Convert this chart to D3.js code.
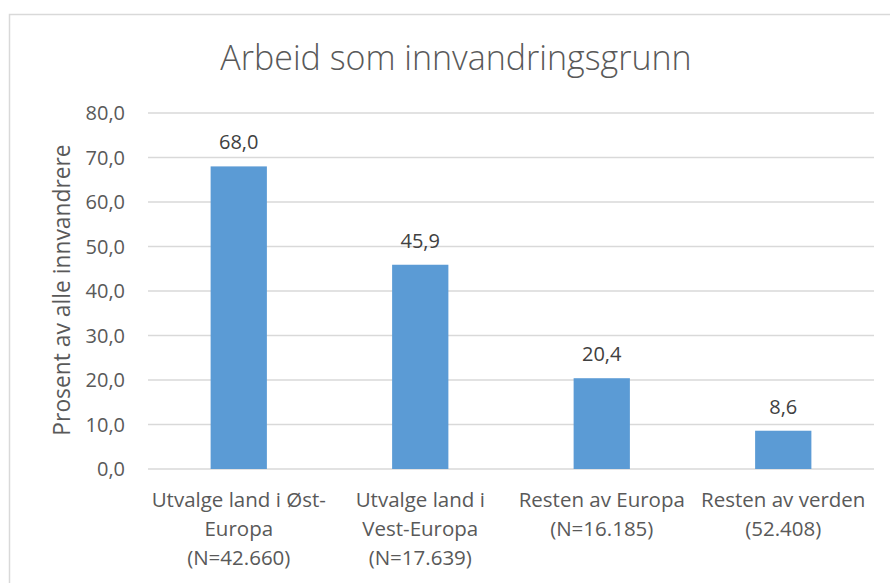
<!DOCTYPE html>
<html>
<head>
<meta charset="utf-8">
<script src="https://cdn.jsdelivr.net/npm/d3@7"></script>
<style>
  body { margin: 0; background: #fff; }
  text { font-family: "Open Sans", "Liberation Sans", sans-serif; fill: #595959; }
</style>
</head>
<body>
<div id="chart"></div>
<script>
// data
var categories = [
  ["Utvalge land i Øst-", "Europa", "(N=42.660)"],
  ["Utvalge land i", "Vest-Europa", "(N=17.639)"],
  ["Resten av Europa", "(N=16.185)"],
  ["Resten av verden", "(52.408)"]
];
var values = [68.0, 45.9, 20.4, 8.6];
var yTicks = [0, 10, 20, 30, 40, 50, 60, 70, 80];

var width = 890, height = 583;
var plotLeft = 148, plotRight = 874, plotTop = 113, plotBottom = 469;

var svg = d3.select("#chart")
  .append("svg")
  .attr("width", width)
  .attr("height", height);

// chart border
svg.append("path")
  .attr("d", "M9.5,583 V14.5 H890")
  .attr("fill", "none")
  .attr("stroke", "#d9d9d9")
  .attr("stroke-width", 1.5);

var x = d3.scaleBand()
  .domain(d3.range(values.length))
  .range([plotLeft, plotRight])
  .paddingInner(0.69)
  .paddingOuter(0.345);

var y = d3.scaleLinear().domain([0, 80]).range([plotBottom, plotTop]);

var fmt = function (v) { return d3.format(".1f")(v).replace(".", ","); };

// gridlines
svg.selectAll(".grid")
  .data(yTicks)
  .enter()
  .append("line")
  .attr("class", "grid")
  .attr("x1", plotLeft)
  .attr("x2", plotRight)
  .attr("y1", function (d) { return y(d); })
  .attr("y2", function (d) { return y(d); })
  .attr("stroke", "#d9d9d9")
  .attr("stroke-width", 1.3);

// y tick labels
svg.selectAll(".ytick")
  .data(yTicks)
  .enter()
  .append("text")
  .attr("class", "ytick")
  .attr("x", 125)
  .attr("y", function (d) { return y(d); })
  .attr("dy", "0.35em")
  .attr("text-anchor", "end")
  .style("font-size", "20px")
  .text(fmt);

// bars
svg.selectAll(".bar")
  .data(values)
  .enter()
  .append("rect")
  .attr("class", "bar")
  .attr("x", function (d, i) { return x(i); })
  .attr("width", x.bandwidth())
  .attr("y", function (d) { return y(d); })
  .attr("height", function (d) { return y(0) - y(d); })
  .attr("fill", "#5b9bd5");

// value labels
svg.selectAll(".val")
  .data(values)
  .enter()
  .append("text")
  .attr("class", "val")
  .attr("x", function (d, i) { return x(i) + x.bandwidth() / 2; })
  .attr("y", function (d) { return y(d) - 17; })
  .attr("text-anchor", "middle")
  .style("font-size", "20px")
  .style("fill", "#404040")
  .text(fmt);

// category labels
var cat = svg.selectAll(".cat")
  .data(categories)
  .enter()
  .append("text")
  .attr("class", "cat")
  .attr("text-anchor", "middle")
  .style("font-size", "20.5px")
  .attr("transform", function (d, i) {
    return "translate(" + (x(i) + x.bandwidth() / 2) + ",507)";
  });

cat.selectAll("tspan")
  .data(function (d) { return d; })
  .enter()
  .append("tspan")
  .attr("x", 0)
  .attr("y", function (d, i) { return i * 29; })
  .text(function (d) { return d; });

// y axis title
svg.append("text")
  .attr("transform", "translate(70," + 290 + ") rotate(-90)")
  .attr("text-anchor", "middle")
  .style("font-size", "22.8px")
  .text("Prosent av alle innvandrere");

// chart title
svg.append("text")
  .attr("x", 456)
  .attr("y", 70)
  .attr("text-anchor", "middle")
  .style("font-size", "34px")
  .style("font-weight", 300)
  .text("Arbeid som innvandringsgrunn");
</script>
</body>
</html>
